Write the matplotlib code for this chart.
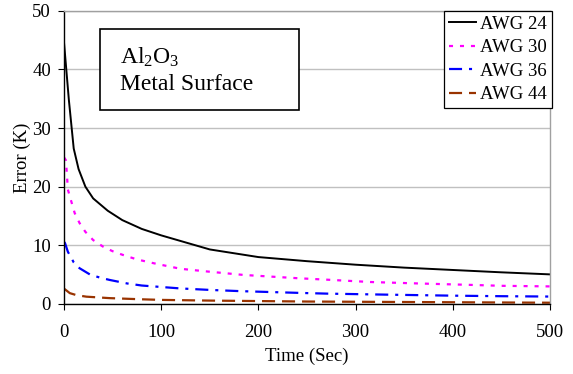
import matplotlib
matplotlib.use("Agg")
import matplotlib.pyplot as plt
from matplotlib.patches import Rectangle

plt.rcParams['font.family'] = ['Liberation Serif', 'DejaVu Serif']
plt.rcParams['mathtext.fontset'] = 'custom'
plt.rcParams['mathtext.rm'] = 'Liberation Serif'
plt.rcParams['mathtext.it'] = 'Liberation Serif:italic'
plt.rcParams['lines.scale_dashes'] = False

# ---- data ----
t24 = [0, 5, 10, 15, 22, 30, 45, 60, 80, 100, 125, 150, 200, 250, 300, 350, 400, 450, 500]
awg24 = [44.6, 34.8, 26.5, 23.0, 20.0, 18.0, 15.9, 14.3, 12.8, 11.7, 10.5, 9.3, 8.0, 7.3, 6.7, 6.2, 5.8, 5.4, 5.05]

t30 = [0, 2, 4, 8, 11, 16, 22, 30, 40, 50, 60, 75, 95, 120, 150, 185, 205, 240, 270, 315, 365, 420, 450, 500]
awg30 = [25.0, 24.5, 19.5, 17.2, 15.5, 13.8, 12.3, 10.9, 9.8, 9.0, 8.4, 7.6, 6.85, 6.0, 5.5, 4.95, 4.75, 4.4, 4.15, 3.75, 3.5, 3.25, 3.1, 3.0]

t36 = [0, 1, 4, 10, 16, 27, 37, 47, 65, 80, 100, 120, 150, 180, 210, 245, 270, 330, 400, 450, 500]
awg36 = [10.6, 10.4, 8.9, 7.1, 6.1, 5.0, 4.5, 4.1, 3.5, 3.15, 2.9, 2.65, 2.4, 2.2, 2.05, 1.88, 1.77, 1.6, 1.42, 1.33, 1.27]

t44 = [0, 1, 6, 13, 23, 47, 80, 100, 150, 200, 250, 300, 400, 500]
awg44 = [2.6, 2.5, 1.85, 1.5, 1.25, 1.0, 0.8, 0.7, 0.58, 0.5, 0.42, 0.38, 0.3, 0.22]

labels = ['AWG 24', 'AWG 30', 'AWG 36', 'AWG 44']
xticks = [0, 100, 200, 300, 400, 500]
yticks = [0, 10, 20, 30, 40, 50]

W, H = 573, 374
fig = plt.figure(figsize=(W / 100, H / 100), dpi=100)
ax = fig.add_axes([64 / W, (H - 304) / H, (550 - 64) / W, (304 - 10.7) / H])

ax.plot(t24, awg24, color='black', lw=1.4, label=labels[0])
ax.plot(t30, awg30, color='#FF00FF', lw=1.6, dashes=(2.9, 5.0), label=labels[1])
ax.plot(t36, awg36, color='#0000FF', lw=1.6, dashes=(9.4, 5.0, 2.2, 5.0), label=labels[2])
ax.plot(t44, awg44, color='#993300', lw=1.6, dashes=(9.4, 5.0), label=labels[3])

ax.set_xlim(0, 500)
ax.set_ylim(0, 50)
ax.set_xticks(xticks)
ax.set_yticks(yticks)
ax.grid(axis='y', color='#C0C0C0', lw=1.0)
ax.set_axisbelow(True)
for s in ['top', 'right']:
    ax.spines[s].set_color('#A0A0A0')
    ax.spines[s].set_linewidth(1.0)
for s in ['left', 'bottom']:
    ax.spines[s].set_color('black')
    ax.spines[s].set_linewidth(1.0)
ax.tick_params(direction='out', length=4.3, width=0.8, labelsize=13.5, colors='black')
ax.tick_params(axis='x', pad=10)
ax.tick_params(axis='y', pad=5)
ax.set_xlabel('Time (Sec)', fontsize=13.5, labelpad=5)
ax.set_ylabel('Error (K)', fontsize=13.5, labelpad=1)

leg = ax.legend(loc='upper right', bbox_to_anchor=(551.7 / W, 1 - 10.7 / H),
                bbox_transform=fig.transFigure, borderaxespad=0, fancybox=False,
                framealpha=1, edgecolor='black', fontsize=13.5, handlelength=1.45,
                handletextpad=0.22, labelspacing=0.34, borderpad=0.27)
leg.get_frame().set_linewidth(0.9)

# annotation box
fig.patches.append(Rectangle((100 / W, 1 - 110.3 / H), (299 - 100) / W, (110.3 - 29.3) / H,
                             transform=fig.transFigure, fill=True, facecolor='white',
                             edgecolor='black', lw=1.2, zorder=5))
fig.text(120.5 / W, 1 - 64 / H, 'Al$_2$O$_3$', fontsize=17, ha='left', va='baseline', zorder=6)
fig.text(120.5 / W, 1 - 90 / H, 'Metal Surface', fontsize=17, ha='left', va='baseline', zorder=6)

fig.savefig('out.png', dpi=100)
